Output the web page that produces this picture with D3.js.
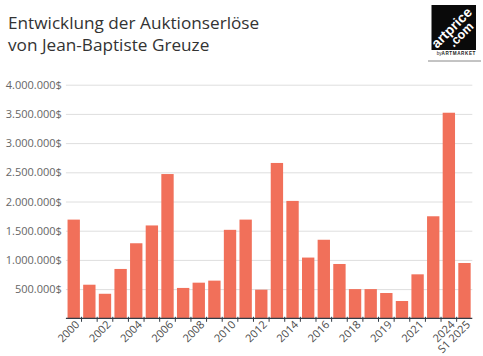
<!DOCTYPE html>
<html>
<head>
<meta charset="utf-8">
<script src="https://cdn.jsdelivr.net/npm/d3@7/dist/d3.min.js"></script>
<style>
  html, body { margin: 0; padding: 0; background: #fff; }
  svg { display: block; }
</style>
</head>
<body>
<svg id="chart" width="483" height="356"></svg>
<script>
// ---- data ----
const categories = ["2000","2001","2002","2003","2004","2005","2006","2007","2008","2009",
  "2010","2011","2012","2013","2014","2015","2016","2017","2018","S2 2018",
  "2019","2020","2021","2023","2024","S1 2025"];
const values = [1690000, 575000, 420000, 845000, 1285000, 1590000, 2470000, 520000, 610000, 645000,
  1515000, 1690000, 490000, 2660000, 2010000, 1040000, 1345000, 930000, 500000, 500000,
  433000, 296000, 753000, 1747000, 3520000, 947000];
const shownLabels = ["2000","2002","2004","2006","2008","2010","2012","2014","2016","2018",
  "2019","2021","2024","S1 2025"];
const yTicks = [500000, 1000000, 1500000, 2000000, 2500000, 3000000, 3500000, 4000000];
const titleLines = ["Entwicklung der Auktionserlöse", "von Jean-Baptiste Greuze"];

// ---- layout ----
const svg = d3.select("#chart");
const plotL = 65.9, plotR = 472.3, plotB = 318.3, plotT = 84.7;

const x = d3.scaleBand().domain(categories).range([plotL, plotR])
  .paddingInner(0.21).paddingOuter(0.105);
const y = d3.scaleLinear().domain([0, 4000000]).range([plotB, plotT]);

const fmt = v => d3.format(",")(v).replace(/,/g, ".") + "$";

// title
svg.append("g").selectAll("text").data(titleLines).join("text")
  .attr("x", 8).attr("y", (d, i) => 29 + i * 21.5)
  .attr("font-family", "'Open Sans', sans-serif").attr("font-size", 17.2)
  .attr("fill", "#333").text(d => d);

// gridlines + y labels
const yAxis = d3.axisLeft(y).tickValues(yTicks).tickFormat(fmt)
  .tickSize(-(plotR - plotL)).tickPadding(4);
const gy = svg.append("g").attr("transform", `translate(${plotL},0)`).call(yAxis);
gy.select(".domain").remove();
gy.selectAll(".tick line").attr("stroke", "#dedede").attr("stroke-width", 1);
gy.selectAll(".tick text").attr("font-family", "'Open Sans', sans-serif")
  .attr("font-size", 11).attr("fill", "#666");

// bars
svg.append("g").selectAll("rect").data(values).join("rect")
  .attr("x", (d, i) => x(categories[i]))
  .attr("y", d => y(d))
  .attr("width", x.bandwidth())
  .attr("height", d => plotB - y(d))
  .attr("fill", "#f1705a");

// x axis
const gap = x.step() - x.bandwidth();
const gx = svg.append("g");
gx.append("line").attr("x1", plotL).attr("x2", plotR).attr("y1", plotB).attr("y2", plotB)
  .attr("stroke", "#333d47").attr("stroke-width", 1.2);
gx.selectAll("line.tk").data(categories.slice(1)).join("line").attr("class", "tk")
  .attr("x1", d => x(d) - gap / 2).attr("x2", d => x(d) - gap / 2)
  .attr("y1", plotB - 1.5).attr("y2", plotB + 3.5)
  .attr("stroke", "#333d47").attr("stroke-width", 1);
gx.selectAll("text").data(shownLabels).join("text")
  .attr("transform", d => `translate(${x(d) + x.bandwidth() / 2 + 6.5},${plotB + 7}) rotate(-45)`)
  .attr("text-anchor", "end")
  .attr("font-family", "'Open Sans', sans-serif").attr("font-size", 11)
  .attr("fill", "#4a4a4a").text(d => d);

// logo
const logo = svg.append("g");
logo.append("rect").attr("x", 431.5).attr("y", 5).attr("width", 44.5).attr("height", 45).attr("fill", "#0a0a0a");
logo.append("text").attr("transform", "translate(455,31) rotate(-45)")
  .attr("text-anchor", "middle").attr("font-family", "'Liberation Sans', Arial, sans-serif")
  .attr("font-weight", "bold").attr("font-size", 13.8).attr("fill", "#fff").text("artprice");
logo.append("text").attr("transform", "translate(464,37.5) rotate(-45)")
  .attr("text-anchor", "middle").attr("font-family", "'Liberation Sans', Arial, sans-serif")
  .attr("font-weight", "bold").attr("font-size", 12.5).attr("fill", "#fff").text(".com");
const by = logo.append("text").attr("x", 476).attr("y", 55).attr("text-anchor", "end")
  .attr("font-family", "'Liberation Sans', Arial, sans-serif").attr("font-size", 4.6).attr("fill", "#222");
by.append("tspan").text("by");
by.append("tspan").attr("font-weight", "bold").attr("letter-spacing", 0.6).text("ARTMARKET");
logo.append("line").attr("x1", 428).attr("x2", 481).attr("y1", 61).attr("y2", 61)
  .attr("stroke", "#888").attr("stroke-width", 1);
</script>
</body>
</html>
